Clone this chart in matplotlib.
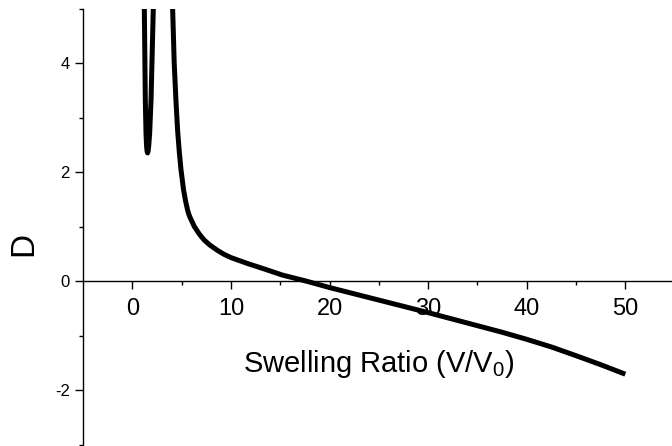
import numpy as np
import matplotlib
matplotlib.use("Agg")
import matplotlib.pyplot as plt
from matplotlib.ticker import FixedLocator

plt.rcParams['font.family'] = ['Liberation Sans', 'DejaVu Sans']
plt.rcParams['mathtext.default'] = 'regular'
plt.rcParams['axes.unicode_minus'] = False

# narrow spike near V/V0 ~ 1.5 (goes off the top of the plot)
spike_x = [1.20, 1.22, 1.32, 1.39, 1.45, 1.50, 1.55, 1.60, 1.66, 1.76, 1.90, 2.13, 2.16]
spike_y = [5.3, 5.0, 3.32, 2.71, 2.47, 2.38, 2.35, 2.38, 2.47, 2.71, 3.32, 5.0, 5.3]

# main branch
main_x = [4.04, 4.09, 4.25, 4.43, 4.60, 4.77, 4.94, 5.20, 5.40, 5.61, 5.75, 5.90,
          6.29, 6.80, 7.30, 7.90, 8.65, 9.30, 10.0, 11.7, 13.4, 15.2, 17.6, 20.0,
          22.5, 25.0, 27.5, 30.0, 32.5, 35.0, 37.5, 40.0, 42.5, 45.0, 47.5, 50.0]
main_y = [5.35, 5.0, 4.0, 3.30, 2.75, 2.36, 2.04, 1.67, 1.47, 1.30, 1.215, 1.15,
          1.00, 0.86, 0.75, 0.655, 0.56, 0.49, 0.43, 0.32, 0.22, 0.11, 0.0, -0.12,
          -0.235, -0.35, -0.465, -0.58, -0.70, -0.82, -0.94, -1.07, -1.21, -1.37,
          -1.535, -1.71]

x_major = [0, 10, 20, 30, 40, 50]
x_minor = [5, 15, 25, 35, 45, 55]
y_major = [-2, 0, 2, 4]
y_minor = [-3, -1, 1, 3, 5]

fig = plt.figure(figsize=(6.72, 4.46), dpi=100)
ax = fig.add_axes([83 / 672, 1.5 / 446, 591.6 / 672, 436 / 446])

for xs, ys in [(spike_x, spike_y), (main_x, main_y)]:
    ax.plot(xs, ys, color='black', lw=3.6, solid_joinstyle='round',
            solid_capstyle='butt')

ax.set_xlim(-5, 55)
ax.set_ylim(-3, 5)

ax.spines['top'].set_visible(False)
ax.spines['right'].set_visible(False)
ax.spines['bottom'].set_position(('data', 0))
for s in ['left', 'bottom']:
    ax.spines[s].set_linewidth(1.0)

ax.xaxis.set_major_locator(FixedLocator(x_major))
ax.xaxis.set_minor_locator(FixedLocator(x_minor))
ax.yaxis.set_major_locator(FixedLocator(y_major))
ax.yaxis.set_minor_locator(FixedLocator(y_minor))

ax.tick_params(axis='x', which='major', length=6, width=1.0, labelsize=17, pad=6)
ax.tick_params(axis='x', which='minor', length=3, width=1.0)
ax.tick_params(axis='y', which='major', length=6, width=1.0, labelsize=12, pad=3.5)
ax.tick_params(axis='y', which='minor', length=3, width=1.0)

ax.set_xlabel('Swelling Ratio (V/V$_0$)', fontsize=21)
ax.xaxis.set_label_coords(0.5, 0.167)
ax.xaxis.label.set_va('baseline')

ax.set_ylabel('D', fontsize=24)
ax.yaxis.set_label_coords(-0.1, 0.46)
ax.yaxis.label.set_va('center')

fig.savefig('out.png', dpi=100)
